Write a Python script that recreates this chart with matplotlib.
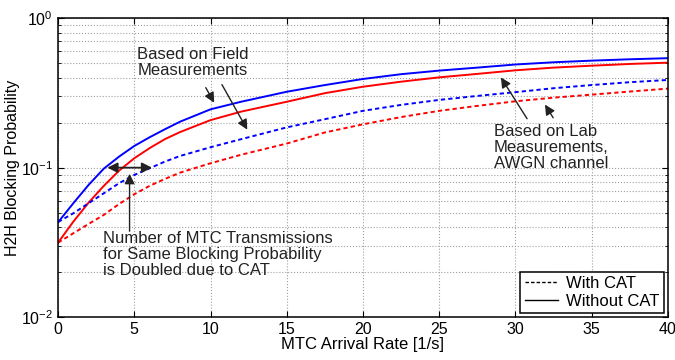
import numpy as np
import matplotlib
matplotlib.use('Agg')
import matplotlib.pyplot as plt
from matplotlib.lines import Line2D

plt.rcParams['font.family'] = ['Liberation Sans', 'DejaVu Sans']
plt.rcParams['mathtext.fontset'] = 'custom'
plt.rcParams['mathtext.rm'] = 'Liberation Sans'
plt.rcParams['mathtext.it'] = 'Liberation Sans'
size = 11.5

# MTC arrival rate [1/s]
rate = [0, 1, 2, 3, 4, 5, 6, 7, 8, 10, 12, 15, 17.5, 20, 22.5, 25, 27.5, 30, 32.5, 35, 37.5, 40]
# field measurements (blue)
field_no_cat = [0.0431, 0.0578, 0.0766, 0.0985, 0.1185, 0.1397, 0.1596, 0.1805, 0.203, 0.2456,
                0.276, 0.322, 0.357, 0.392, 0.422, 0.446, 0.467, 0.490, 0.507, 0.520, 0.531, 0.540]
field_cat = [0.0433, 0.0495, 0.0578, 0.0674, 0.0787, 0.0894, 0.099, 0.1097, 0.1197, 0.137,
             0.155, 0.186, 0.211, 0.240, 0.263, 0.284, 0.302, 0.320, 0.340, 0.357, 0.373, 0.386]
# lab measurements, AWGN (red)
lab_no_cat = [0.0315, 0.0435, 0.0583, 0.0755, 0.0955, 0.1156, 0.135, 0.155, 0.173, 0.208,
              0.237, 0.276, 0.315, 0.348, 0.376, 0.402, 0.424, 0.448, 0.467, 0.481, 0.494, 0.504]
lab_cat = [0.0315, 0.0364, 0.042, 0.0483, 0.0571, 0.0664, 0.0755, 0.084, 0.0926, 0.107,
           0.122, 0.145, 0.172, 0.195, 0.218, 0.240, 0.259, 0.278, 0.294, 0.308, 0.323, 0.338]

fig = plt.figure(figsize=(6.75, 3.6), dpi=100)
ax = fig.add_axes([0.086, 0.119, 0.9035, 0.8305])

lw = 1.4
dash = (2.2, 1.6)
ax.plot(rate, field_no_cat, color='blue', linewidth=lw)
ax.plot(rate, lab_no_cat, color='red', linewidth=lw)
ax.plot(rate, field_cat, color='blue', linewidth=lw, linestyle='--', dashes=dash)
ax.plot(rate, lab_cat, color='red', linewidth=lw, linestyle='--', dashes=dash)

ax.set_yscale('log')
ax.set_xlim(0, 40)
ax.set_ylim(1e-2, 1)
ax.set_xticks(np.arange(0, 41, 5))
ax.grid(True, which='major', linestyle=':', color='#a0a0a0', linewidth=0.8)
ax.grid(True, which='minor', axis='y', linestyle=':', color='#a0a0a0', linewidth=0.8)
ax.tick_params(which='both', direction='in', top=True, right=True, labelsize=size)
ax.tick_params(which='major', length=4.5)
ax.tick_params(which='minor', length=2.5)
for s in ax.spines.values():
    s.set_linewidth(1.1)
ax.set_xlabel('MTC Arrival Rate [1/s]', fontsize=size + 0.5, labelpad=0)
ax.set_ylabel('H2H Blocking Probability', fontsize=size, labelpad=1)

arrow = dict(arrowstyle='-|>', color='#222222', lw=1.0, mutation_scale=15)
fs = 12
ls = 1.05
ax.annotate('', xy=(10.33, 0.262), xytext=(9.6, 0.356), arrowprops=arrow)
ax.annotate('', xy=(12.5, 0.173), xytext=(10.66, 0.373), arrowprops=arrow)
ax.text(5.2, 0.64, 'Based on Field\nMeasurements', fontsize=fs, va='top', ha='left',
        color='#222222', linespacing=ls)

ax.annotate('', xy=(28.95, 0.416), xytext=(30.86, 0.205), arrowprops=arrow)
ax.annotate('', xy=(31.84, 0.274), xytext=(32.57, 0.208), arrowprops=arrow)
ax.text(28.6, 0.195, 'Based on Lab\nMeasurements,\nAWGN channel', fontsize=fs, va='top',
        ha='left', color='#222222', linespacing=ls)

ax.annotate('', xy=(3.05, 0.1), xytext=(6.35, 0.1),
            arrowprops=dict(arrowstyle='<|-|>', color='#222222', lw=1.3, mutation_scale=15))
ax.annotate('', xy=(4.69, 0.095), xytext=(4.69, 0.036), arrowprops=arrow)
ax.text(2.96, 0.0375, 'Number of MTC Transmissions\nfor Same Blocking Probability\nis Doubled due to CAT',
        fontsize=fs, va='top', ha='left', color='#222222', linespacing=ls)

handles = [Line2D([], [], color='black', linestyle='--', dashes=(2.5, 1.5), linewidth=1.0),
           Line2D([], [], color='black', linewidth=1.0)]
leg = ax.legend(handles, ['With CAT', 'Without CAT'], loc='lower right', fontsize=fs,
                fancybox=False, framealpha=1, edgecolor='black', borderpad=0.25,
                labelspacing=0.15, handlelength=2.0, handletextpad=0.5, borderaxespad=0.25)
leg.get_frame().set_linewidth(1.1)

plt.savefig('out.png', dpi=100)
